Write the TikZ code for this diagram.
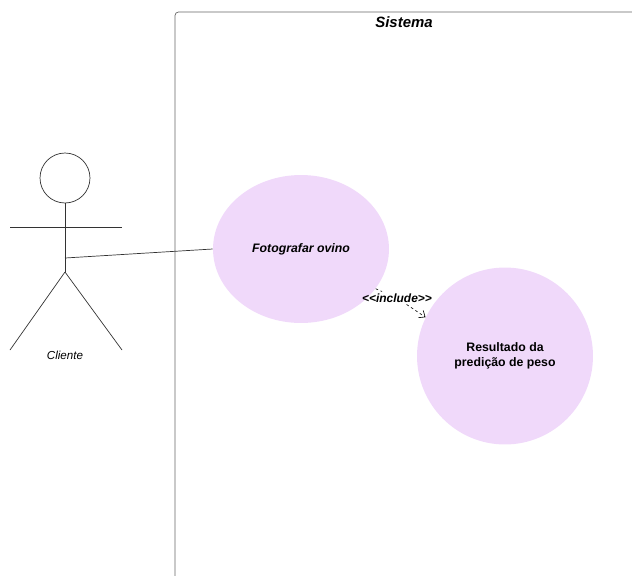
\documentclass[tikz,border=0pt]{standalone}
\usepackage{fontspec}
\setmainfont{Liberation Sans}
\usetikzlibrary{shapes.geometric,arrows.meta}

\definecolor{casofill}{RGB}{240,217,250}

\tikzset{
    caso/.style={ellipse, fill=casofill, inner sep=0pt, font=\fontsize{7}{8.5}\selectfont\bfseries, align=center},
    ator/.style={line width=0.4pt, black!80},
    incluir/.style={dash pattern=on 1.5pt off 1.5pt, line width=0.35pt}
}

\begin{document}
\begin{tikzpicture}[x=0.02cm, y=-0.02cm]
    \useasboundingbox (0,0) rectangle (632,575);
    \clip (0,0) rectangle (632,575);

    % sistema
    \draw[black!60, line width=0.4pt, rounded corners=2pt] (175,600) -- (175,12) -- (660,12);
    \node[font=\fontsize{8.5}{10}\selectfont\bfseries\itshape] (sistema) at (404,22) {Sistema};

    % ator
    \node[ator, draw, circle, minimum size=1cm, inner sep=0pt] (cabeca) at (65,178) {};
    \coordinate (quadril) at (65,272);
    \coordinate (mao) at (65,258);
    \draw[ator] (cabeca.south) -- (quadril);
    \draw[ator] (10,227) -- (122,227);
    \draw[ator] (quadril) -- (10,350);
    \draw[ator] (quadril) -- (122,350);
    \node[font=\fontsize{6.6}{8}\selectfont\itshape] (cliente) at (65,355) {Cliente};

    % casos de uso
    \node[caso, minimum width=3.52cm, minimum height=2.96cm] (fot) at (301,249) {\itshape Fotografar ovino};
    \node[caso, minimum width=3.52cm, minimum height=3.54cm] (res) at (505,356) {Resultado da\\predição de peso};

    \draw[ator] (mao) -- (fot.west);

    % include
    \node[font=\fontsize{6.8}{8}\selectfont\bfseries\itshape, inner sep=1pt] (incl) at (397,298) {{<}{<}include{>}{>}};
    \draw[incluir] (fot.-28) -- (incl);
    \draw[incluir, -{Straight Barb[length=3pt,width=5pt]}] (incl) -- (res.154);
\end{tikzpicture}
\end{document}
